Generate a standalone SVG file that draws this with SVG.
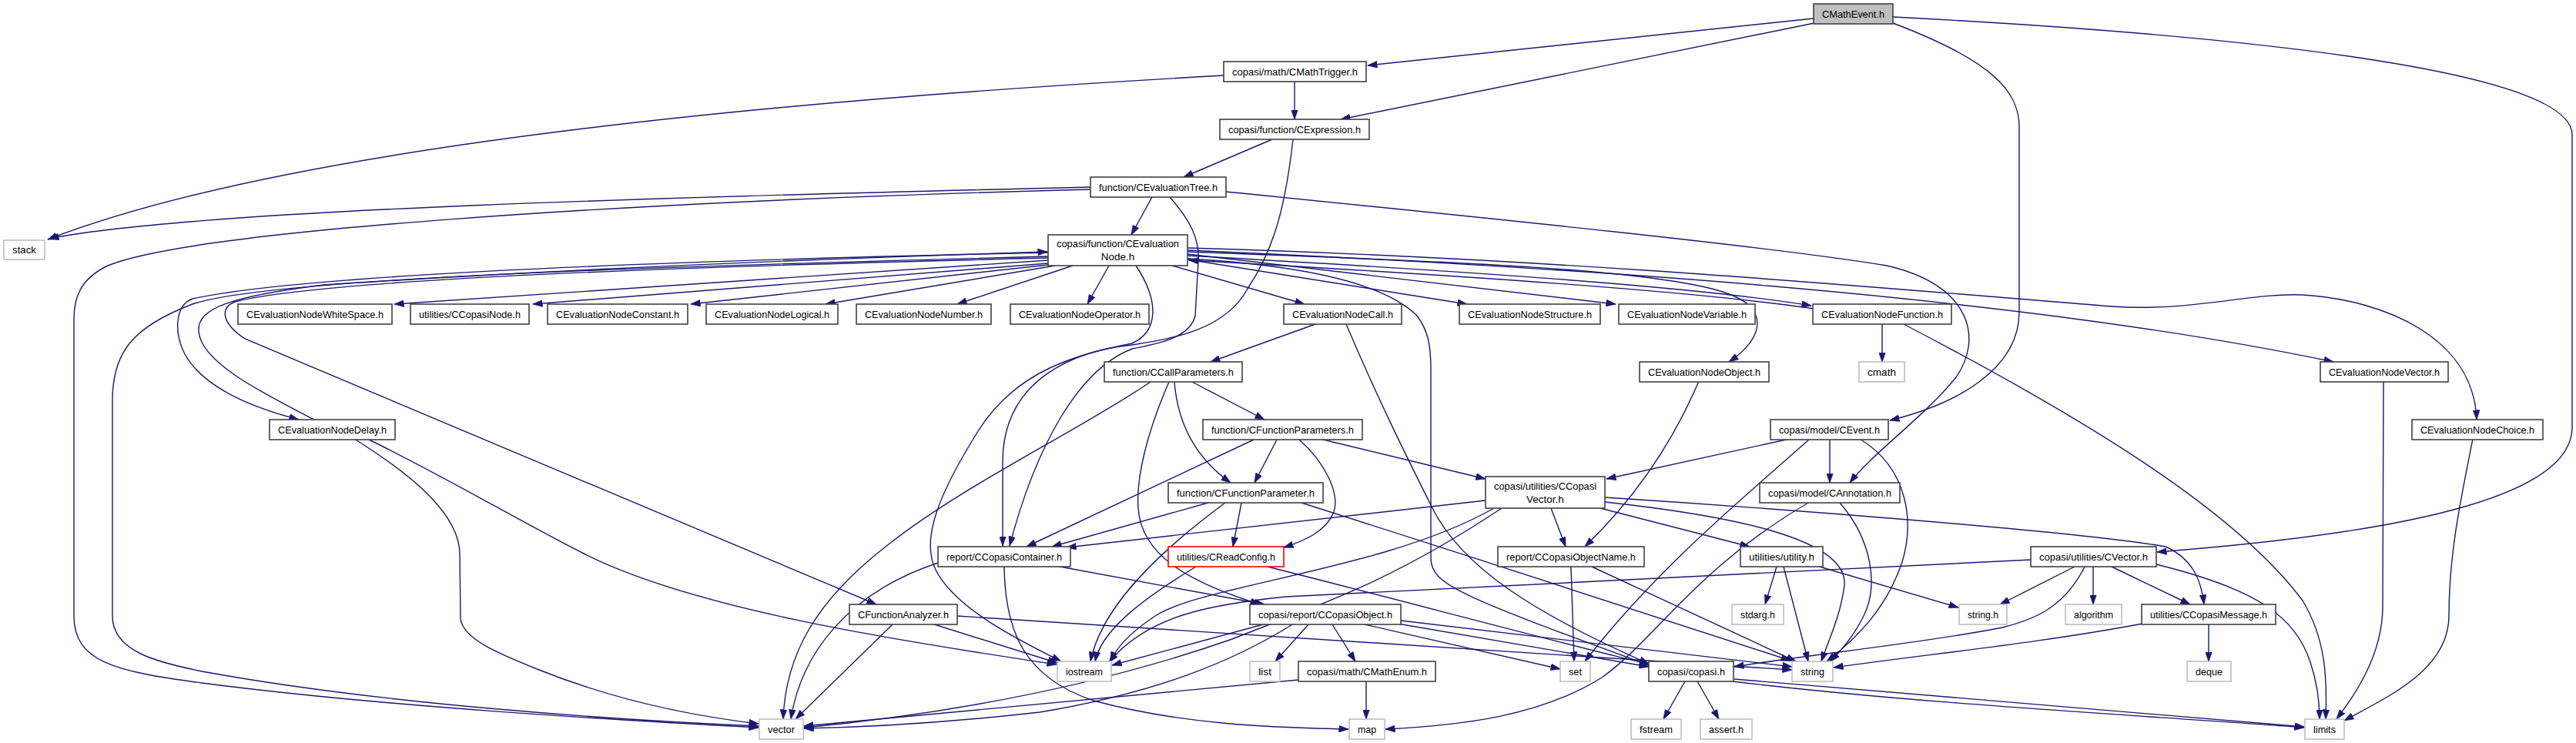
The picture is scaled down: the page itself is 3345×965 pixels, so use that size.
<svg xmlns="http://www.w3.org/2000/svg" width="3345" height="965" viewBox="0 0 3345 965">
<style>
.n rect{fill:#fff;stroke:#404040;stroke-width:1.6}
.g rect{fill:#fff;stroke:#bfbfbf;stroke-width:1.6}
.r rect{fill:#fff;stroke:#ff0000;stroke-width:1.6}
.c rect{fill:#bfbfbf;stroke:#404040;stroke-width:1.6}
text{font-family:"Liberation Sans",Arial,sans-serif;font-size:13.5px;fill:#000;text-anchor:middle}
#edges path{fill:none;stroke:#191970;stroke-width:1.4;marker-end:url(#a)}
</style>
<defs>
<marker id="a" viewBox="0 0 13 9" refX="12.5" refY="4.5" markerWidth="13" markerHeight="9" markerUnits="userSpaceOnUse" orient="auto"><path d="M0,0 L13,4.5 L0,9 z" fill="#191970" stroke="#191970" stroke-width="0.5"/></marker>
</defs>
<rect width="3345" height="965" fill="#fff"/>
<g id="edges">
<path d="M2355,24 L1776,85"/>
<path d="M2356,30 L1741,155"/>
<path d="M2458,30 C2590,80 2622,120 2622,165 L2622,405 C2622,480 2540,525 2454,546"/>
<path d="M2458,22 C2900,45 3340,90 3340,175 L3340,555 C3340,640 3150,690 2801,717"/>
<path d="M1681,106 L1681,155"/>
<path d="M1589,98 C1100,125 400,180 62,311"/>
<path d="M1416,243 C900,255 250,272 64,310"/>
<path d="M1416,246 C800,262 250,300 140,345 C105,362 96,385 96,415 L96,800 C96,860 150,872 262,887 C500,918 800,935 985,945"/>
<path d="M1496,256 L1469,305"/>
<path d="M1652,181 L1537,230"/>
<path d="M1679,181 C1668,280 1650,330 1620,375 C1590,430 1520,440 1470,448 C1400,455 1302,490 1302,600 L1302,709"/>
<path d="M1518,255 C1545,285 1558,310 1556,340 L1552,410 C1545,440 1500,447 1470,453 C1400,480 1345,580 1311,709"/>
<path d="M1475,345 C1505,390 1505,430 1470,446 C1400,460 1320,480 1270,560 C1220,640 1195,700 1215,740 C1240,790 1320,830 1378,859"/>
<path d="M1361,333 C900,345 350,360 250,395 C170,425 146,460 146,520 L146,800 C146,845 200,860 268,873 C500,915 800,935 985,943"/>
<path d="M1361,338 L512,395"/>
<path d="M1361,342 L692,395"/>
<path d="M1361,344 L897,395"/>
<path d="M1370,345 L1072,395"/>
<path d="M1393,345 L1243,395"/>
<path d="M1440,345 L1412,395"/>
<path d="M1522,345 L1694,395"/>
<path d="M1542,337 L1905,395"/>
<path d="M1542,330 L2098,395"/>
<path d="M1542,332 C1900,352 2200,372 2352,397"/>
<path d="M2356,401 C2200,378 1900,358 1544,338"/>
<path d="M1542,327 C1900,340 2150,350 2240,380 C2300,400 2290,440 2245,470"/>
<path d="M1542,325 C2000,345 2600,380 3030,470"/>
<path d="M1542,322 C2000,335 2400,370 2742,398 C2850,405 2920,380 2990,383 C3100,390 3212,440 3216,545"/>
<path d="M1361,328 C900,338 400,355 250,388 C228,396 225,430 240,460 C265,505 330,530 388,545"/>
<path d="M408,545 C340,510 260,470 258,430 C256,400 300,385 420,370 C800,345 1200,332 1360,327"/>
<path d="M1361,335 C900,346 420,362 305,392 C285,400 288,420 318,440 L1138,785"/>
<path d="M1708,421 L1572,470"/>
<path d="M1748,421 C1790,520 1830,600 1860,660 C1900,740 2000,800 2141,862"/>
<path d="M1542,336 C1700,345 1800,370 1840,410 C1855,430 1858,450 1858,480 L1858,725 C1858,760 1900,775 2141,864"/>
<path d="M1548,496 L1642,545"/>
<path d="M1525,496 C1530,560 1560,600 1598,627"/>
<path d="M1494,496 C1400,560 1250,630 1150,710 C1060,780 1020,850 1017,934"/>
<path d="M1518,496 C1490,560 1475,620 1478,660 C1482,720 1540,755 1636,785"/>
<path d="M1658,571 L1629,627"/>
<path d="M1628,571 L1333,710"/>
<path d="M1714,570 L1929,622"/>
<path d="M1687,571 C1720,600 1740,640 1732,665 C1722,690 1695,702 1667,711"/>
<path d="M1569,653 L1366,710"/>
<path d="M1612,653 L1601,710"/>
<path d="M1591,653 C1500,720 1430,790 1416,859"/>
<path d="M1690,653 C1900,720 2150,800 2325,858"/>
<path d="M2324,570 L2086,622"/>
<path d="M2376,570 L2376,627"/>
<path d="M2350,570 C2260,650 2150,740 2058,859"/>
<path d="M2415,570 C2480,610 2485,680 2470,730 C2450,790 2410,830 2372,859"/>
<path d="M1592,249 C1900,280 2300,320 2450,345 C2560,370 2575,440 2540,490 C2500,540 2430,590 2402,627"/>
<path d="M2444,421 L2444,470"/>
<path d="M2472,421 C2700,540 2900,660 2990,780 C3020,830 3022,880 3020,934"/>
<path d="M3095,495 L3094,790 C3093,850 3060,900 3034,934"/>
<path d="M3211,570 C3195,650 3180,720 3180,800 C3180,870 3100,905 3044,936"/>
<path d="M2694,736 L2597,785"/>
<path d="M2718,736 L2718,785"/>
<path d="M2742,736 L2844,785"/>
<path d="M2800,733 C2930,765 2980,800 3000,860 C3010,890 3012,915 3012,934"/>
<path d="M2707,736 C2680,790 2640,805 2600,815 C2500,835 2350,850 2252,866"/>
<path d="M2637,727 L1670,775 C1570,785 1490,800 1440,860"/>
<path d="M2868,811 L2868,859"/>
<path d="M2782,810 C2650,835 2500,850 2381,867"/>
<path d="M2084,646 C2300,660 2700,690 2812,710 C2845,725 2858,750 2862,785"/>
<path d="M2014,660 L2033,710"/>
<path d="M2078,660 L2272,710"/>
<path d="M1929,650 L1385,711"/>
<path d="M2084,652 C2250,670 2400,700 2395,760 C2390,800 2375,830 2365,859"/>
<path d="M1940,660 C1800,740 1560,760 1500,800 C1470,820 1450,840 1442,859"/>
<path d="M1950,660 C1800,760 1700,790 1600,830 C1400,900 1200,930 1044,945"/>
<path d="M2348,653 C2200,740 2150,830 2080,880 C2000,930 1900,942 1799,947"/>
<path d="M2389,653 C2430,700 2440,760 2420,800 C2405,830 2390,845 2377,859"/>
<path d="M1371,735 L1642,785"/>
<path d="M1218,731 C1100,770 1040,850 1027,934"/>
<path d="M1304,736 C1305,820 1330,880 1420,910 C1550,945 1680,945 1751,947"/>
<path d="M1553,736 C1480,780 1430,820 1422,859"/>
<path d="M1642,735 C1900,800 2150,870 2250,885 C2500,915 2800,930 2992,945"/>
<path d="M2252,882 L2992,944"/>
<path d="M2188,885 L2160,934"/>
<path d="M2204,885 L2232,934"/>
<path d="M1774,885 L1774,934"/>
<path d="M1686,883 L1044,943"/>
<path d="M1700,810 L1656,859"/>
<path d="M1730,811 L1760,859"/>
<path d="M1772,811 L2026,869"/>
<path d="M1815,810 L2141,866"/>
<path d="M1819,806 L2327,866"/>
<path d="M1644,810 L1444,864"/>
<path d="M1680,810 C1600,860 1500,900 1350,925 C1200,942 1100,945 1044,946"/>
<path d="M1210,810 L1373,861"/>
<path d="M1159,811 L1033,934"/>
<path d="M1243,800 L2327,870"/>
<path d="M2040,736 L2044,859"/>
<path d="M2067,736 L2332,859"/>
<path d="M2307,736 L2292,785"/>
<path d="M2316,736 L2348,859"/>
<path d="M2356,734 L2543,789"/>
<path d="M2206,495 C2170,580 2120,650 2058,710"/>
<path d="M460,570 C540,620 597,670 597,720 L598,803 C600,830 650,850 700,870 C800,910 900,930 985,940"/>
<path d="M477,570 C580,620 680,680 760,720 C900,790 1150,830 1372,863"/>
</g>
<g id="n0" class="c"><rect x="2355" y="5" width="103" height="26"/><text x="2406.5" y="22.5" textLength="81" lengthAdjust="spacingAndGlyphs">CMathEvent.h</text></g>
<g id="n1" class="n"><rect x="1589" y="80" width="185" height="26"/><text x="1681.5" y="97.5" textLength="163" lengthAdjust="spacingAndGlyphs">copasi/math/CMathTrigger.h</text></g>
<g id="n2" class="n"><rect x="1584" y="155" width="194" height="26"/><text x="1681" y="172.5" textLength="172" lengthAdjust="spacingAndGlyphs">copasi/function/CExpression.h</text></g>
<g id="n3" class="n"><rect x="1416" y="230" width="176" height="26"/><text x="1504" y="247.5" textLength="154" lengthAdjust="spacingAndGlyphs">function/CEvaluationTree.h</text></g>
<g id="n4" class="n"><rect x="1361" y="305" width="181" height="40"/><text x="1451.5" y="320.5" textLength="159" lengthAdjust="spacingAndGlyphs">copasi/function/CEvaluation</text><text x="1451.5" y="337.5">Node.h</text></g>
<g id="n5" class="g"><rect x="5" y="312" width="53" height="25"/><text x="31.5" y="329" textLength="31" lengthAdjust="spacingAndGlyphs">stack</text></g>
<g id="n6" class="n"><rect x="309" y="395" width="200" height="26"/><text x="409" y="412.5" textLength="178" lengthAdjust="spacingAndGlyphs">CEvaluationNodeWhiteSpace.h</text></g>
<g id="n7" class="n"><rect x="533" y="395" width="154" height="26"/><text x="610" y="412.5" textLength="132" lengthAdjust="spacingAndGlyphs">utilities/CCopasiNode.h</text></g>
<g id="n8" class="n"><rect x="711" y="395" width="182" height="26"/><text x="802" y="412.5" textLength="160" lengthAdjust="spacingAndGlyphs">CEvaluationNodeConstant.h</text></g>
<g id="n9" class="n"><rect x="917" y="395" width="171" height="26"/><text x="1002.5" y="412.5" textLength="149" lengthAdjust="spacingAndGlyphs">CEvaluationNodeLogical.h</text></g>
<g id="n10" class="n"><rect x="1112" y="395" width="175" height="26"/><text x="1199.5" y="412.5" textLength="153" lengthAdjust="spacingAndGlyphs">CEvaluationNodeNumber.h</text></g>
<g id="n11" class="n"><rect x="1312" y="395" width="180" height="26"/><text x="1402" y="412.5" textLength="158" lengthAdjust="spacingAndGlyphs">CEvaluationNodeOperator.h</text></g>
<g id="n12" class="n"><rect x="1667" y="395" width="153" height="26"/><text x="1743.5" y="412.5" textLength="131" lengthAdjust="spacingAndGlyphs">CEvaluationNodeCall.h</text></g>
<g id="n13" class="n"><rect x="1895" y="395" width="183" height="26"/><text x="1986.5" y="412.5" textLength="161" lengthAdjust="spacingAndGlyphs">CEvaluationNodeStructure.h</text></g>
<g id="n14" class="n"><rect x="2102" y="395" width="177" height="26"/><text x="2190.5" y="412.5" textLength="155" lengthAdjust="spacingAndGlyphs">CEvaluationNodeVariable.h</text></g>
<g id="n15" class="n"><rect x="2354" y="395" width="180" height="26"/><text x="2444" y="412.5" textLength="158" lengthAdjust="spacingAndGlyphs">CEvaluationNodeFunction.h</text></g>
<g id="n16" class="n"><rect x="1434" y="470" width="179" height="26"/><text x="1523.5" y="487.5" textLength="157" lengthAdjust="spacingAndGlyphs">function/CCallParameters.h</text></g>
<g id="n17" class="n"><rect x="2129" y="470" width="168" height="26"/><text x="2213" y="487.5" textLength="146" lengthAdjust="spacingAndGlyphs">CEvaluationNodeObject.h</text></g>
<g id="n18" class="g"><rect x="2414" y="470" width="59" height="26"/><text x="2443.5" y="487.5" textLength="37" lengthAdjust="spacingAndGlyphs">cmath</text></g>
<g id="n19" class="n"><rect x="3013" y="470" width="166" height="26"/><text x="3096" y="487.5" textLength="144" lengthAdjust="spacingAndGlyphs">CEvaluationNodeVector.h</text></g>
<g id="n20" class="n"><rect x="350" y="545" width="163" height="26"/><text x="431.5" y="562.5" textLength="141" lengthAdjust="spacingAndGlyphs">CEvaluationNodeDelay.h</text></g>
<g id="n21" class="n"><rect x="1562" y="545" width="207" height="26"/><text x="1665.5" y="562.5" textLength="185" lengthAdjust="spacingAndGlyphs">function/CFunctionParameters.h</text></g>
<g id="n22" class="n"><rect x="2299" y="545" width="153" height="26"/><text x="2375.5" y="562.5" textLength="131" lengthAdjust="spacingAndGlyphs">copasi/model/CEvent.h</text></g>
<g id="n23" class="n"><rect x="3132" y="545" width="170" height="26"/><text x="3217" y="562.5" textLength="148" lengthAdjust="spacingAndGlyphs">CEvaluationNodeChoice.h</text></g>
<g id="n24" class="n"><rect x="1517" y="627" width="201" height="26"/><text x="1617.5" y="644.5" textLength="179" lengthAdjust="spacingAndGlyphs">function/CFunctionParameter.h</text></g>
<g id="n25" class="n"><rect x="1929" y="619" width="155" height="41"/><text x="2006.5" y="636" textLength="133" lengthAdjust="spacingAndGlyphs">copasi/utilities/CCopasi</text><text x="2006.5" y="653">Vector.h</text></g>
<g id="n26" class="n"><rect x="2285" y="627" width="182" height="26"/><text x="2376" y="644.5" textLength="160" lengthAdjust="spacingAndGlyphs">copasi/model/CAnnotation.h</text></g>
<g id="n27" class="n"><rect x="1218" y="710" width="172" height="26"/><text x="1304" y="727.5" textLength="150" lengthAdjust="spacingAndGlyphs">report/CCopasiContainer.h</text></g>
<g id="n28" class="r"><rect x="1517" y="710" width="150" height="26"/><text x="1592" y="727.5" textLength="128" lengthAdjust="spacingAndGlyphs">utilities/CReadConfig.h</text></g>
<g id="n29" class="n"><rect x="1945" y="710" width="190" height="26"/><text x="2040" y="727.5" textLength="168" lengthAdjust="spacingAndGlyphs">report/CCopasiObjectName.h</text></g>
<g id="n30" class="n"><rect x="2260" y="710" width="107" height="26"/><text x="2313.5" y="727.5" textLength="85" lengthAdjust="spacingAndGlyphs">utilities/utility.h</text></g>
<g id="n31" class="n"><rect x="2637" y="710" width="163" height="26"/><text x="2718.5" y="727.5" textLength="141" lengthAdjust="spacingAndGlyphs">copasi/utilities/CVector.h</text></g>
<g id="n32" class="n"><rect x="1103" y="785" width="140" height="26"/><text x="1173" y="802.5" textLength="118" lengthAdjust="spacingAndGlyphs">CFunctionAnalyzer.h</text></g>
<g id="n33" class="n"><rect x="1623" y="785" width="196" height="26"/><text x="1721" y="802.5" textLength="174" lengthAdjust="spacingAndGlyphs">copasi/report/CCopasiObject.h</text></g>
<g id="n34" class="g"><rect x="2249" y="785" width="67" height="26"/><text x="2282.5" y="802.5" textLength="45" lengthAdjust="spacingAndGlyphs">stdarg.h</text></g>
<g id="n35" class="g"><rect x="2544" y="785" width="62" height="26"/><text x="2575" y="802.5" textLength="40" lengthAdjust="spacingAndGlyphs">string.h</text></g>
<g id="n36" class="g"><rect x="2682" y="785" width="73" height="26"/><text x="2718.5" y="802.5" textLength="51" lengthAdjust="spacingAndGlyphs">algorithm</text></g>
<g id="n37" class="n"><rect x="2781" y="785" width="174" height="26"/><text x="2868" y="802.5" textLength="152" lengthAdjust="spacingAndGlyphs">utilities/CCopasiMessage.h</text></g>
<g id="n38" class="g"><rect x="1373" y="859" width="70" height="26"/><text x="1408" y="876.5" textLength="48" lengthAdjust="spacingAndGlyphs">iostream</text></g>
<g id="n39" class="g"><rect x="1623" y="859" width="39" height="26"/><text x="1642.5" y="876.5" textLength="17" lengthAdjust="spacingAndGlyphs">list</text></g>
<g id="n40" class="n"><rect x="1686" y="859" width="178" height="26"/><text x="1775" y="876.5" textLength="156" lengthAdjust="spacingAndGlyphs">copasi/math/CMathEnum.h</text></g>
<g id="n41" class="g"><rect x="2026" y="859" width="39" height="26"/><text x="2045.5" y="876.5" textLength="17" lengthAdjust="spacingAndGlyphs">set</text></g>
<g id="n42" class="n"><rect x="2141" y="859" width="110" height="26"/><text x="2196" y="876.5" textLength="88" lengthAdjust="spacingAndGlyphs">copasi/copasi.h</text></g>
<g id="n43" class="g"><rect x="2327" y="859" width="53" height="26"/><text x="2353.5" y="876.5" textLength="31" lengthAdjust="spacingAndGlyphs">string</text></g>
<g id="n44" class="g"><rect x="2840" y="859" width="57" height="26"/><text x="2868.5" y="876.5" textLength="35" lengthAdjust="spacingAndGlyphs">deque</text></g>
<g id="n45" class="g"><rect x="986" y="934" width="57" height="26"/><text x="1014.5" y="951.5" textLength="35" lengthAdjust="spacingAndGlyphs">vector</text></g>
<g id="n46" class="g"><rect x="1752" y="934" width="46" height="26"/><text x="1775" y="951.5" textLength="24" lengthAdjust="spacingAndGlyphs">map</text></g>
<g id="n47" class="g"><rect x="2118" y="934" width="65" height="26"/><text x="2150.5" y="951.5" textLength="43" lengthAdjust="spacingAndGlyphs">fstream</text></g>
<g id="n48" class="g"><rect x="2208" y="934" width="67" height="26"/><text x="2241.5" y="951.5" textLength="45" lengthAdjust="spacingAndGlyphs">assert.h</text></g>
<g id="n49" class="g"><rect x="2993" y="934" width="51" height="26"/><text x="3018.5" y="951.5" textLength="29" lengthAdjust="spacingAndGlyphs">limits</text></g>
</svg>
